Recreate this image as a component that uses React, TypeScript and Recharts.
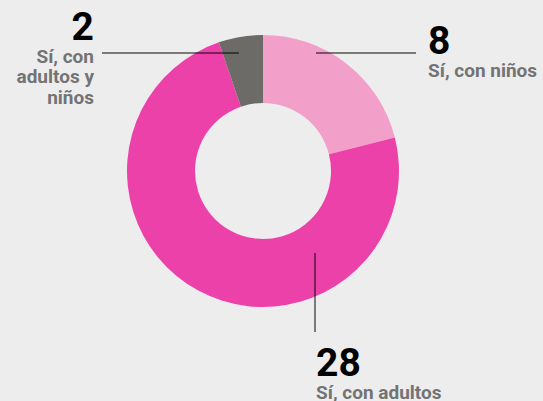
import { PieChart, Pie, Cell } from 'recharts'

const categories = ['Sí, con niños', 'Sí, con adultos', 'Sí, con adultos y niños']
const values = [8, 28, 2]
const colors = ['#f29fc9', '#ed41aa', '#6c6b67']

// annotation layout per slice: leader line + number + label lines
const notes = [
  { line: [316, 53, 416, 53], x: 428, y: 54, anchor: 'start', lines: ['Sí, con niños'] },
  { line: [315, 253, 315, 332], x: 316, y: 376, anchor: 'start', lines: ['Sí, con adultos'] },
  { line: [239, 53, 102, 53], x: 94, y: 40, anchor: 'end', lines: ['Sí, con', 'adultos y', 'niños'] },
]

const data = categories.map((name, i) => ({ name, value: values[i] }))

const FONT = 'Roboto, "Noto Sans", sans-serif'

function renderLabel(props: any) {
  const n = notes[props.index]
  if (!n) return null
  const [x1, y1, x2, y2] = n.line
  return (
    <g>
      <line x1={x1} y1={y1} x2={x2} y2={y2} stroke="rgba(0,0,0,0.65)" strokeWidth={1.5} />
      <text x={n.x} y={n.y} textAnchor={n.anchor} fontFamily={FONT} fontWeight={700} fontSize={39} fill="#000">
        {values[props.index]}
      </text>
      {n.lines.map((t, i) => (
        <text
          key={i}
          x={n.x}
          y={n.y + 22.5 + i * 20.5}
          textAnchor={n.anchor}
          fontFamily={FONT}
          fontWeight={700}
          fontSize={19}
          fill="#737373"
        >
          {t}
        </text>
      ))}
    </g>
  )
}

export default function App() {
  return (
    <div style={{ position: 'absolute', left: 0, top: 0, width: 543, height: 401, background: '#ededed' }}>
      <PieChart width={543} height={401} margin={{ top: 0, right: 0, bottom: 0, left: 0 }}>
        <Pie
          data={data}
          dataKey="value"
          cx={263}
          cy={171}
          innerRadius={68}
          outerRadius={136}
          startAngle={90}
          endAngle={-270}
          stroke="none"
          label={renderLabel}
          labelLine={false}
          isAnimationActive={false}
        >
          {data.map((d, i) => (
            <Cell key={d.name} fill={colors[i]} />
          ))}
        </Pie>
      </PieChart>
    </div>
  )
}
